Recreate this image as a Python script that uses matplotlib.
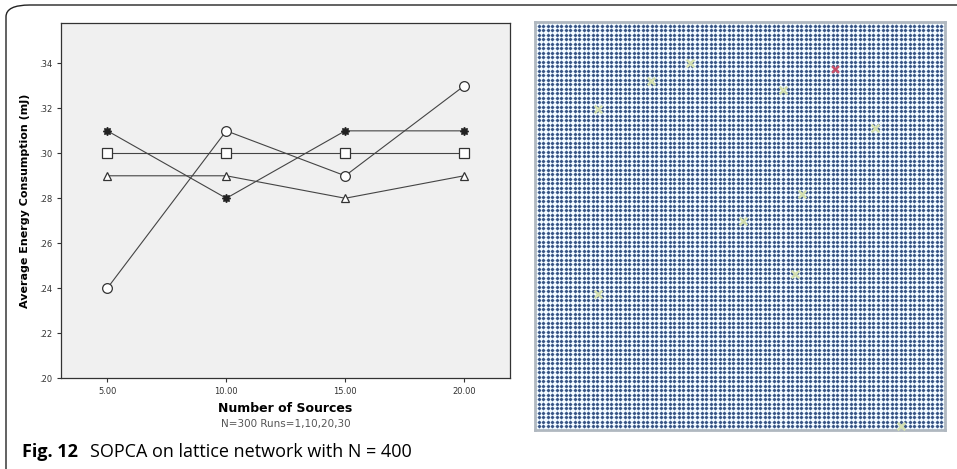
import numpy as np
import matplotlib.pyplot as plt
from matplotlib.patches import FancyBboxPatch

# data
sources = [5.00, 10.00, 15.00, 20.00]
run_1 = [0.24, 0.31, 0.29, 0.33]    # circles
run_10 = [0.31, 0.28, 0.31, 0.31]   # stars
run_20 = [0.30, 0.30, 0.30, 0.30]   # squares
run_30 = [0.29, 0.29, 0.28, 0.29]   # triangles
y_ticks = [0.20, 0.22, 0.24, 0.26, 0.28, 0.30, 0.32, 0.34]

# lattice picture: grid size and the highlighted nodes (column, row from top)
grid_n = 90
src_cols = [33.4, 24.8, 13.1, 54.0, 74.3, 58.2, 45.1, 56.6, 13.1, 80.1]
src_rows = [8.2, 12.4, 18.6, 14.2, 22.8, 37.4, 43.4, 55.1, 59.5, 88.9]
sink_col = [65.5]
sink_row = [9.7]

fig = plt.figure(figsize=(9.57, 4.69), dpi=100)

# rounded frame round the figure
frame = FancyBboxPatch((6 / 957, -0.2), 1.2, 1.2 - 5 / 469,
                       boxstyle="round,pad=0,rounding_size=0.025",
                       transform=fig.transFigure, fill=False,
                       edgecolor="#222222", linewidth=1.0)
fig.patches.append(frame)

# ---- left: line chart
ax = fig.add_axes([61 / 957, 1 - 378 / 469, 449 / 957, 355 / 469])
ax.set_facecolor("#f0f0f0")
line_kw = dict(color="#444444", linewidth=0.8)
ax.plot(sources, run_1, marker="o", markersize=7, markerfacecolor="white",
        markeredgecolor="#333333", markeredgewidth=0.9, **line_kw)
ax.plot(sources, run_10, marker=(8, 1, 0), markersize=6, markerfacecolor="#222222",
        markeredgecolor="#222222", **line_kw)
ax.plot(sources, run_20, marker="s", markersize=7, markerfacecolor="white",
        markeredgecolor="#333333", markeredgewidth=0.9, **line_kw)
ax.plot(sources, run_30, marker="^", markersize=6, markerfacecolor="white",
        markeredgecolor="#333333", markeredgewidth=0.9, **line_kw)

ax.set_xlim(3.05, 21.93)
ax.set_ylim(0.20, 0.358)
ax.set_xticks(sources)
ax.set_xticklabels(["%.2f" % s for s in sources], fontsize=6, color="#333333")
ax.set_yticks(y_ticks)
ax.set_yticklabels([(".%02d" % round(v * 100)) for v in y_ticks], fontsize=6, color="#333333")
ax.tick_params(direction="out", length=3, width=0.8, colors="#333333")
for s in ax.spines.values():
    s.set_color("#333333")
    s.set_linewidth(0.9)
ax.set_ylabel("Average Energy Consumption (mJ)", fontsize=8, fontweight="bold", labelpad=6)
ax.set_xlabel("Number of Sources", fontsize=9, fontweight="bold", labelpad=4)
fig.text(286 / 957, 1 - 424 / 469, "N=300 Runs=1,10,20,30", fontsize=7.5,
         color="#555555", ha="center", va="center")

# ---- right: lattice network
lx = fig.add_axes([535 / 957, 1 - 430 / 469, 410 / 957, 408 / 469])
lx.set_facecolor("#f4fbff")
for k in range(grid_n):
    lx.axhline(k, color="#b4cae6", linewidth=0.6, zorder=1)
    lx.axvline(k, color="#b4cae6", linewidth=0.6, zorder=1)
gx, gy = np.meshgrid(np.arange(grid_n), np.arange(grid_n))
lx.scatter(gx.ravel(), gy.ravel(), s=5, marker="o", color="#3a5685",
           linewidths=0, zorder=2)
lx.scatter(src_cols, src_rows, s=30, marker="x", color="#d4e0b0", linewidths=1.8, zorder=3)
lx.scatter(sink_col, sink_row, s=24, marker="x", color="#c8506a", linewidths=1.8, zorder=3)
lx.set_xlim(-0.8, grid_n - 0.2)
lx.set_ylim(grid_n - 0.2, -0.8)
lx.set_xticks([])
lx.set_yticks([])
for s in lx.spines.values():
    s.set_color("#b0b8c0")
    s.set_linewidth(2.0)

# caption
fig.text(22 / 957, 1 - 452 / 469, "Fig. 12", fontsize=13, fontweight="bold",
         family="Open Sans", va="center", ha="left")
fig.text(90 / 957, 1 - 452 / 469, "SOPCA on lattice network with N = 400", fontsize=13,
         family="Open Sans", va="center", ha="left")

fig.savefig("out.png", dpi=100)
